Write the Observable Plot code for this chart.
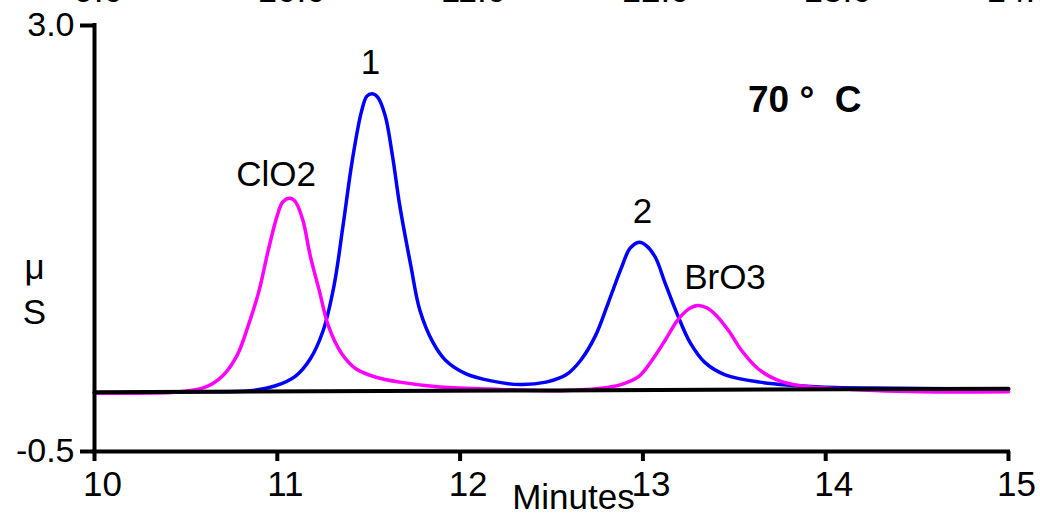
<!DOCTYPE html>
<html>
<head>
<meta charset="utf-8">
<script src="https://cdn.jsdelivr.net/npm/d3@7"></script>
<script src="https://cdn.jsdelivr.net/npm/@observablehq/plot@0.6"></script>
<style>
html, body { margin: 0; padding: 0; background: #fff; }
</style>
</head>
<body>
<div id="chart"></div>
<script>
// ---- Data (minutes, µS) ----
const blueMinutes = [10.00, 10.58, 10.85, 10.99, 11.10, 11.18, 11.25, 11.31, 11.36, 11.41, 11.46, 11.49, 11.52, 11.55, 11.59, 11.63, 11.67, 11.73, 11.78, 11.85, 11.92, 12.03, 12.17, 12.33, 12.47, 12.58, 12.66, 12.74, 12.81, 12.88, 12.93, 12.98, 13.02, 13.07, 13.12, 13.19, 13.26, 13.34, 13.45, 13.64, 13.97, 14.41, 15.00];
const blueValues  = [-0.02, -0.01, 0.00, 0.04, 0.12, 0.26, 0.49, 0.86, 1.36, 1.89, 2.29, 2.42, 2.44, 2.41, 2.26, 1.93, 1.52, 1.03, 0.66, 0.40, 0.25, 0.14, 0.08, 0.05, 0.07, 0.13, 0.25, 0.45, 0.72, 1.00, 1.17, 1.22, 1.19, 1.09, 0.89, 0.62, 0.39, 0.23, 0.13, 0.07, 0.03, 0.02, 0.01];

const magentaMinutes = [10.00, 10.47, 10.61, 10.70, 10.78, 10.84, 10.90, 10.95, 11.00, 11.03, 11.07, 11.10, 11.14, 11.18, 11.23, 11.28, 11.35, 11.43, 11.54, 11.67, 11.89, 12.22, 12.55, 12.77, 12.88, 12.98, 13.05, 13.12, 13.19, 13.25, 13.30, 13.35, 13.40, 13.47, 13.54, 13.63, 13.73, 13.86, 14.14, 14.52, 15.00];
const magentaValues  = [-0.02, -0.01, 0.03, 0.12, 0.29, 0.53, 0.82, 1.15, 1.44, 1.55, 1.58, 1.55, 1.40, 1.11, 0.82, 0.53, 0.31, 0.18, 0.11, 0.07, 0.03, 0.01, 0.00, 0.02, 0.05, 0.12, 0.25, 0.41, 0.58, 0.67, 0.70, 0.68, 0.62, 0.49, 0.33, 0.18, 0.09, 0.04, 0.01, -0.01, -0.01];

const baselineMinutes = [10.0, 12.5, 15.0];
const baselineValues  = [-0.013, 0.002, 0.016];

const xTicks = [10, 11, 12, 13, 14, 15];
const yTicks = [-0.5, 3.0];

// clipped labels of an overlaid axis at the very top
const topLabels  = ["9.0", "10.0", "11.0", "12.0", "13.0", "14.0"];
const topMinutes = [10.022, 11.078, 12.073, 13.069, 14.065, 15.066];

// peak annotations
const peakLabels  = ["ClO2", "1", "2", "BrO3"];
const peakMinutes = [10.993, 11.51, 12.998, 13.449];
const peakValues  = [1.776, 2.696, 1.472, 0.925];

const tempLabel = ["70 °  C"];
const tempMinutes = [13.575];
const tempValues = [2.39];

const unitLabels = ["μ", "S"];
const unitMinutes = [9.672, 9.672];
const unitValues = [0.921, 0.551];

const xTitle = ["Minutes"];
const xTitleMinutes = [12.62];

// ---- Build tables ----
const blue = blueMinutes.map((t, i) => ({t, v: blueValues[i]}));
const magenta = magentaMinutes.map((t, i) => ({t, v: magentaValues[i]}));
const baseline = baselineMinutes.map((t, i) => ({t, v: baselineValues[i]}));
const tops = topLabels.map((s, i) => ({s, t: topMinutes[i]}));
const peaks = peakLabels.map((s, i) => ({s, t: peakMinutes[i], v: peakValues[i]}));
const temps = tempLabel.map((s, i) => ({s, t: tempMinutes[i], v: tempValues[i]}));
const units = unitLabels.map((s, i) => ({s, t: unitMinutes[i], v: unitValues[i]}));
const titles = xTitle.map((s, i) => ({s, t: xTitleMinutes[i]}));

const FONT = "'Liberation Sans', Arial, Helvetica, sans-serif";

const chart = Plot.plot({
  width: 1040,
  height: 514,
  marginLeft: 94,
  marginRight: 32,
  marginTop: 25,
  marginBottom: 63,
  style: {fontFamily: FONT, background: "#fff", color: "#000"},
  x: {domain: [10, 15], label: null},
  y: {domain: [-0.5, 3.0], label: null},
  marks: [
    Plot.line(blue, {x: "t", y: "v", stroke: "#0000ff", strokeWidth: 3.5, curve: "catmull-rom"}),
    Plot.line(magenta, {x: "t", y: "v", stroke: "#ff00ff", strokeWidth: 3.5, curve: "catmull-rom"}),
    Plot.line(baseline, {x: "t", y: "v", stroke: "#000", strokeWidth: 4}),
    Plot.ruleX([10], {y1: -0.5, y2: 3.0, stroke: "#000", strokeWidth: 4, strokeLinecap: "square"}),
    Plot.ruleY([-0.5], {x1: 10, x2: 15, stroke: "#000", strokeWidth: 4, strokeLinecap: "square"}),
    Plot.axisX({ticks: xTicks, tickSize: 10, strokeWidth: 4, tickFormat: () => "", label: null}),
    Plot.axisX({ticks: xTicks, tickSize: 0, tickPadding: 20, dx: 8, fontSize: 35, fill: "#000", tickFormat: d => String(d), label: null}),
    Plot.axisY({ticks: yTicks, tickSize: 14, tickPadding: 6, strokeWidth: 4, fontSize: 34, fill: "#000", tickFormat: d => d.toFixed(1), label: null}),
    Plot.text(tops, {x: "t", text: "s", frameAnchor: "top", lineAnchor: "bottom", dy: -24, fontSize: 35, fill: "#000"}),
    Plot.text(peaks, {x: "t", y: "v", text: "s", fontSize: 35, fill: "#000"}),
    Plot.text(temps, {x: "t", y: "v", text: "s", textAnchor: "start", fontSize: 37, fontWeight: "bold", fill: "#000"}),
    Plot.text(units, {x: "t", y: "v", text: "s", lineAnchor: "bottom", fontSize: 35, fill: "#000"}),
    Plot.text(titles, {x: "t", text: "s", frameAnchor: "bottom", dy: 57, fontSize: 35, fill: "#000"})
  ]
});

document.getElementById("chart").appendChild(chart);
</script>
</body>
</html>
